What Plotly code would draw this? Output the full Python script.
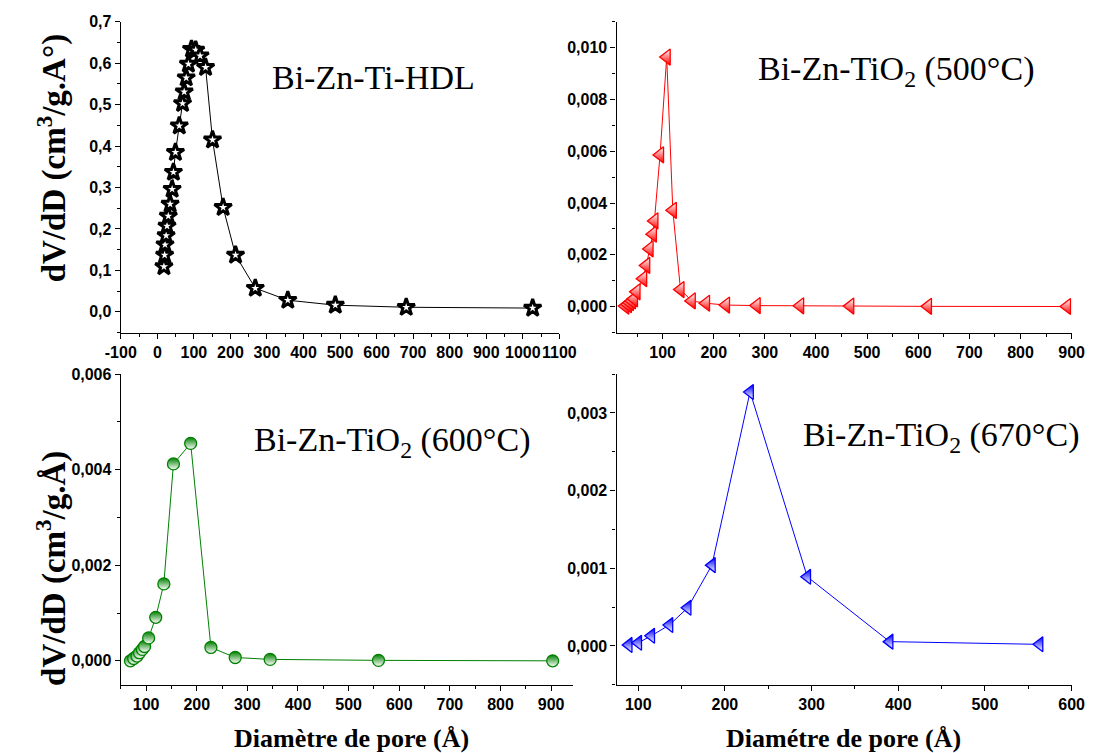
import plotly.graph_objects as go

W, H = 1109, 753

# Bi-Zn-Ti-HDL : pore diameter (Å) and dV/dD
hdl_d = [18, 20, 21, 24, 26.5, 30, 35, 40.5, 44, 49.5, 60, 69, 73.5, 79, 85, 93.5,
         105, 117, 132, 151, 180, 214, 268, 357, 487, 681, 1027]
hdl_v = [0.109, 0.137, 0.162, 0.184, 0.207, 0.231, 0.260, 0.296, 0.337, 0.385, 0.449,
         0.503, 0.531, 0.565, 0.598, 0.634, 0.632, 0.618, 0.590, 0.415, 0.252, 0.137,
         0.057, 0.028, 0.016, 0.011, 0.009]

# Bi-Zn-TiO2 calcined at 500 °C
t500_d = [27, 32, 36, 40, 44, 49, 62, 68, 74.5, 81, 84, 95, 108, 120, 135, 157, 185,
          224, 284, 369, 467, 619, 891]
t500_v = [0.00002, 0.00008, 0.00015, 0.00022, 0.00030, 0.00057, 0.00108, 0.00159,
          0.00223, 0.00280, 0.00331, 0.00586, 0.00964, 0.00372, 0.00066, 0.00022,
          0.00013, 0.00006, 0.00004, 0.00003, 0.00002, 0.00001, 0.000005]

# Bi-Zn-TiO2 calcined at 600 °C
t600_d = [69, 75.5, 82, 87, 92.5, 97, 105, 119, 135, 154, 188, 228, 276, 345, 559, 903]
t600_v = [0.00000, 0.00005, 0.00010, 0.00017, 0.00024, 0.00030, 0.00048, 0.00091,
          0.00161, 0.00412, 0.00455, 0.00028, 0.00007, 0.00003, 0.00001, 0.00000]

# Bi-Zn-TiO2 calcined at 670 °C
t670_d = [89, 100, 115, 136, 157, 185, 229, 295, 390, 563]
t670_v = [0.000013, 0.00004, 0.00013, 0.00027, 0.00049, 0.00104, 0.00327, 0.00089,
          0.000055, 0.00002]

# Tick positions of each panel
x1_ticks = list(range(-100, 1101, 100))
y1_ticks = [0.0, 0.1, 0.2, 0.3, 0.4, 0.5, 0.6, 0.7]
x2_ticks = list(range(100, 901, 100))
y2_ticks = [0.000, 0.002, 0.004, 0.006, 0.008, 0.010]
x3_ticks = list(range(100, 901, 100))
y3_ticks = [0.000, 0.002, 0.004, 0.006]
x4_ticks = list(range(100, 601, 100))
y4_ticks = [0.000, 0.001, 0.002, 0.003]

SANS = "Liberation Sans, Arial, sans-serif"
SERIF = "Liberation Serif, Times New Roman, serif"


def xd(a, b):
    return [a / W, b / W]


def yd(top, bottom):
    return [1 - bottom / H, 1 - top / H]


def bold_labels(vals, decimals):
    # comma as decimal separator, as in French notation
    out = []
    for v in vals:
        s = f"{v:.{decimals}f}".replace(".", ",")
        out.append(f"<b>{s}</b>")
    return out


def axis_style(vals, decimals, **kw):
    base = dict(showline=True, linecolor="black", linewidth=1.3, mirror=False,
                ticks="outside", ticklen=5, tickwidth=1.3, tickcolor="black",
                showgrid=False, zeroline=False, tickangle=0,
                tickmode="array", tickvals=vals, ticktext=bold_labels(vals, decimals),
                tickfont=dict(family=SANS, size=16, color="black"),
                minor=dict(ticks="outside", ticklen=3, tickwidth=1.3,
                           tickcolor="black", showgrid=False))
    base.update(kw)
    return base


fig = go.Figure()

fig.add_trace(go.Scatter(
    x=hdl_d, y=hdl_v, mode="lines+markers", xaxis="x", yaxis="y",
    line=dict(color="black", width=1),
    marker=dict(symbol="star", size=13, color="white",
                line=dict(color="black", width=3))))

fig.add_trace(go.Scatter(
    x=t500_d, y=t500_v, mode="lines+markers", xaxis="x2", yaxis="y2",
    line=dict(color="#ff0000", width=1),
    marker=dict(symbol="triangle-left", size=14, color="white",
                gradient=dict(type="vertical", color="#ff0000"),
                line=dict(color="#ff0000", width=1.3))))

fig.add_trace(go.Scatter(
    x=t600_d, y=t600_v, mode="lines+markers", xaxis="x3", yaxis="y3",
    line=dict(color="#008000", width=1),
    marker=dict(symbol="circle", size=12, color="#008000",
                gradient=dict(type="vertical", color="white"),
                line=dict(color="#008000", width=1.3))))

fig.add_trace(go.Scatter(
    x=t670_d, y=t670_v, mode="lines+markers", xaxis="x4", yaxis="y4",
    line=dict(color="#0000ff", width=1),
    marker=dict(symbol="triangle-left", size=13, color="#0000ff",
                gradient=dict(type="vertical", color="white"),
                line=dict(color="#0000ff", width=1.3))))

fig.update_layout(
    width=W, height=H, margin=dict(l=0, r=0, t=0, b=0),
    paper_bgcolor="white", plot_bgcolor="white", showlegend=False,
    font=dict(family=SANS, size=16, color="black"),
    xaxis=axis_style(x1_ticks, 0, domain=xd(108, 560), range=[-100, 1100],
                     minor_dtick=50, minor_tick0=0, anchor="y"),
    yaxis=axis_style(y1_ticks, 1, domain=yd(14, 328), range=[-0.05, 0.7],
                     minor_dtick=0.05, minor_tick0=0, anchor="x"),
    xaxis2=axis_style(x2_ticks, 0, domain=xd(619, 1088), range=[10, 900],
                      minor_dtick=50, minor_tick0=0, anchor="y2"),
    yaxis2=axis_style(y2_ticks, 3, domain=yd(14, 328), range=[-0.001, 0.011],
                      minor_dtick=0.001, minor_tick0=0, anchor="x2"),
    xaxis3=axis_style(x3_ticks, 0, domain=xd(108, 574), range=[50, 943],
                      minor_dtick=50, minor_tick0=0, anchor="y3"),
    yaxis3=axis_style(y3_ticks, 3, domain=yd(370, 684), range=[-0.0005, 0.006],
                      minor_dtick=0.001, minor_tick0=0, anchor="x3"),
    xaxis4=axis_style(x4_ticks, 0, domain=xd(619, 1088), range=[75, 600],
                      minor_dtick=50, minor_tick0=0, anchor="y4"),
    yaxis4=axis_style(y4_ticks, 3, domain=yd(370, 684), range=[-0.0005, 0.0035],
                      minor_dtick=0.0005, minor_tick0=0, anchor="x4"),
)

labels = [
    (368 / W, 1 - 70 / H, "Bi-Zn-Ti-HDL"),
    (907 / W, 1 - 64 / H, "Bi-Zn-TiO<sub>2</sub> (500°C)"),
    (388 / W, 1 - 439 / H, "Bi-Zn-TiO<sub>2</sub> (600°C)"),
    (953 / W, 1 - 434 / H, "Bi-Zn-TiO<sub>2</sub> (670°C)"),
]
for x, y, t in labels:
    fig.add_annotation(x=x, y=y, xref="paper", yref="paper", text=t, showarrow=False,
                       xanchor="center", yanchor="middle",
                       font=dict(family=SERIF, size=34, color="black"))

ytitle_font = dict(family=SERIF, size=33, color="black")
xtitle_font = dict(family=SERIF, size=26, color="black")
fig.add_annotation(x=37 / W, y=1 - 152 / H, xref="paper", yref="paper",
                   text="<b>dV/dD (cm<sup>3</sup>/g.A°)</b>", textangle=-90,
                   showarrow=False, xanchor="center", yanchor="middle", font=ytitle_font)
fig.add_annotation(x=37 / W, y=1 - 566 / H, xref="paper", yref="paper",
                   text="<b>dV/dD (cm<sup>3</sup>/g.Å)</b>", textangle=-90,
                   showarrow=False, xanchor="center", yanchor="middle", font=ytitle_font)
fig.add_annotation(x=346 / W, y=1 - 738 / H, xref="paper", yref="paper",
                   text="<b>Diamètre de pore (Å)</b>", showarrow=False,
                   xanchor="center", yanchor="middle", font=xtitle_font)
fig.add_annotation(x=853 / W, y=1 - 738 / H, xref="paper", yref="paper",
                   text="<b>Diamétre de pore (Å)</b>", showarrow=False,
                   xanchor="center", yanchor="middle", font=xtitle_font)

fig.write_html("out.html")
